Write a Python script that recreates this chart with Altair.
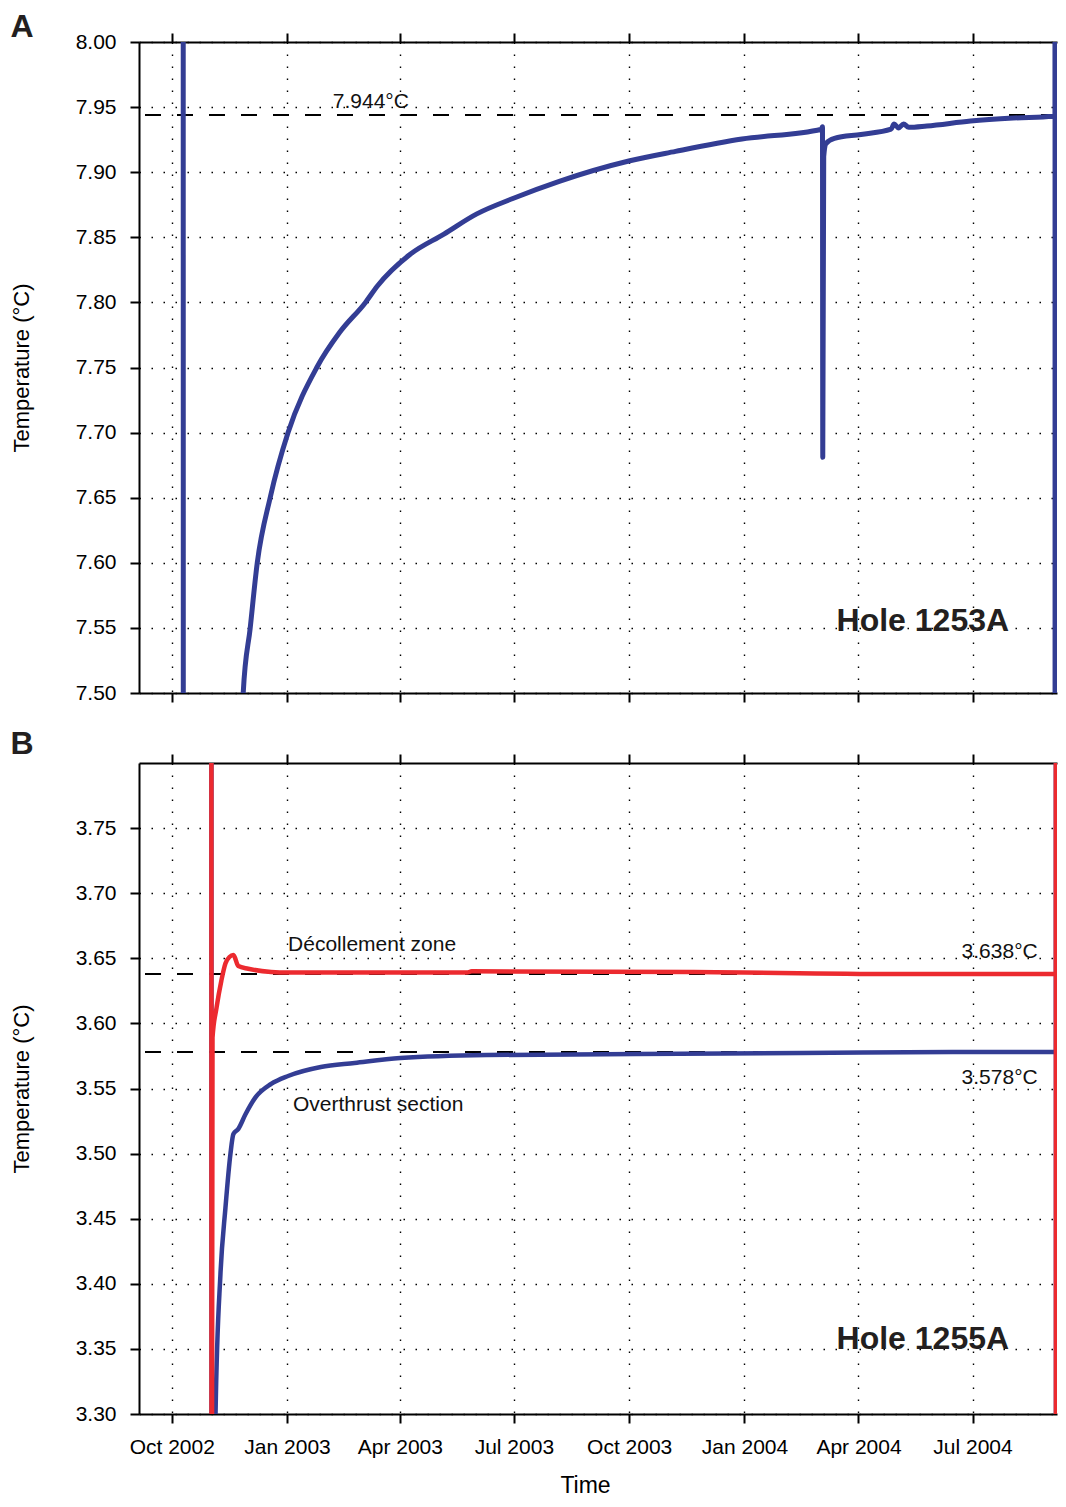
import altair as alt
import pandas as pd

BLUE = "#333D94"
RED = "#EC2A2F"
FONT = "Liberation Sans"

# ---------------- Panel A: Hole 1253A ----------------
a_dates = [
    "2002-10-10T00:00", "2002-10-10T06:00", "2002-11-26T00:00", "2002-11-27T00:00",
    "2002-12-02T14:00", "2002-12-08T05:00", "2002-12-18T12:00", "2003-01-01T19:00",
    "2003-01-24T17:00", "2003-02-12T00:00", "2003-03-04T14:00", "2003-03-14T02:00",
    "2003-04-09T07:00", "2003-05-06T05:00", "2003-06-01T10:00", "2003-06-30T17:00",
    "2003-08-06T05:00", "2003-09-30T17:00", "2003-11-07T00:00", "2003-12-30T00:00",
    "2004-03-02T12:00", "2004-03-03T06:00", "2004-03-03T12:00", "2004-03-04T06:00",
    "2004-03-06T00:00", "2004-03-12T19:00", "2004-04-03T00:00", "2004-04-27T00:00",
    "2004-04-29T10:00", "2004-05-03T00:00", "2004-05-07T00:00", "2004-05-11T00:00",
    "2004-05-25T12:00", "2004-06-29T10:00", "2004-08-02T12:00", "2004-09-03T05:00",
    "2004-09-04T19:00", "2004-09-04T20:00", "2004-09-04T21:00",
]
a_temp = [
    9.0, 7.0, 7.40, 7.50,
    7.55, 7.60, 7.65, 7.70,
    7.75, 7.777, 7.80, 7.8126,
    7.837, 7.8525, 7.868, 7.880,
    7.893, 7.9086, 7.916, 7.9255,
    7.933, 7.935, 7.681, 7.912,
    7.922, 7.926, 7.929, 7.933,
    7.937, 7.934, 7.937, 7.9345,
    7.9355, 7.9393, 7.9416, 7.943,
    7.944, 9.0, 7.0,
]
a_ref = [7.944]
a_note_text = ["7.944°C"]
a_note_date = ["2003-02-06T12:00"]
a_note_temp = [7.9539]
a_hole = ["Hole 1253A"]
a_hole_date = ["2004-03-14T12:00"]
a_hole_temp = [7.5553]

# ---------------- Panel B: Hole 1255A ----------------
b_over_dates = [
    "2002-11-01T12:00", "2002-11-01T18:00", "2002-11-04T12:00", "2002-11-04T22:00",
    "2002-11-08T20:00", "2002-11-12T19:00", "2002-11-16T19:00", "2002-11-19T04:00",
    "2002-11-23T03:00", "2002-11-28T17:00", "2002-12-06T15:00", "2002-12-19T07:00",
    "2003-01-01T19:00", "2003-01-27T22:00", "2003-02-23T21:00", "2003-04-01T08:00",
    "2003-06-09T07:00", "2003-10-06T00:00", "2004-02-15T00:00", "2004-06-15T00:00",
    "2004-09-05T12:00", "2004-09-05T13:00", "2004-09-05T14:00",
]
b_over_temp = [
    4.5, 3.0, 3.25, 3.30,
    3.4075, 3.458, 3.4997, 3.515,
    3.519, 3.530, 3.543, 3.5535,
    3.5596, 3.5665, 3.5696, 3.5734,
    3.5757, 3.5765, 3.5773, 3.578,
    3.578, 4.5, 3.0,
]
b_dec_dates = [
    "2002-11-01T12:00", "2002-11-01T18:00", "2002-11-02T12:00", "2002-11-05T17:00",
    "2002-11-09T14:00", "2002-11-12T19:00", "2002-11-16T00:00", "2002-11-19T05:00",
    "2002-11-23T02:00", "2002-12-01T00:00", "2002-12-19T07:00", "2003-01-01T19:00",
    "2003-05-24T12:00", "2003-05-28T09:00", "2003-11-22T00:00", "2004-04-29T00:00",
    "2004-09-05T12:00", "2004-09-05T13:00", "2004-09-05T14:00",
]
b_dec_temp = [
    4.5, 3.0, 3.589, 3.612,
    3.633, 3.646, 3.651, 3.6525,
    3.644, 3.642, 3.6395, 3.639,
    3.639, 3.640, 3.6395, 3.638,
    3.638, 4.5, 3.0,
]
b_ref = [3.638, 3.578]
b_note_text = ["Décollement zone", "3.638°C", "3.578°C", "Overthrust section"]
b_note_date = ["2003-01-01T19:00", "2004-06-22T07:00", "2004-06-22T07:00", "2003-01-05T17:00"]
b_note_temp = [3.6602, 3.6548, 3.5581, 3.5373]
b_hole = ["Hole 1255A"]
b_hole_date = ["2004-03-14T12:00"]
b_hole_temp = [3.3576]

tick_months = [(2002, 10), (2003, 1), (2003, 4), (2003, 7), (2003, 10), (2004, 1), (2004, 4), (2004, 7)]
a_yticks = [7.50, 7.55, 7.60, 7.65, 7.70, 7.75, 7.80, 7.85, 7.90, 7.95, 8.00]
b_yticks = [3.30, 3.35, 3.40, 3.45, 3.50, 3.55, 3.60, 3.65, 3.70, 3.75]

# ---------------- helpers ----------------
tick_vals = [alt.DateTime(year=y, month=m, date=1) for y, m in tick_months]
x_domain = [alt.DateTime(year=2002, month=9, date=4, hours=20),
            alt.DateTime(year=2004, month=9, date=6, hours=10)]
GRID = dict(grid=True, gridDash=[1.5, 10.5], gridColor="#000000", gridWidth=1.4)
AX = dict(tickSize=9, tickWidth=2, domainWidth=2, domainColor="#000000", tickColor="#000000")
PW, PH = 918, 651


def panel(series, refs, notes, hole, letter, ydom, yticks, bottom_labels, letter_y, lw):
    xs = alt.Scale(domain=x_domain, nice=False)
    ys = alt.Scale(domain=ydom, nice=False, zero=False)

    bottom_kw = dict(orient="bottom", values=tick_vals, format="%b %Y", labelFlush=False,
                     labelOverlap=False, labelFontSize=21, labelPadding=13, **GRID, **AX)
    if bottom_labels:
        bottom_kw.update(title="Time", titleFontSize=23, titlePadding=17, titleX=446)
    else:
        bottom_kw.update(labels=False, title=None)

    yaxis = alt.Axis(values=yticks, format=".2f", title="Temperature (°C)", labelFontSize=21,
                     titleFontSize=22, labelPadding=14, titlePadding=42, labelFlush=False,
                     **GRID, **AX)

    layers = []
    rdf = pd.DataFrame({"temp": refs})
    layers.append(
        alt.Chart(rdf).mark_rule(color="#000000", strokeWidth=2, strokeDash=[16, 16])
        .encode(y=alt.Y("temp:Q", scale=ys, axis=yaxis))
    )
    first = True
    for dates, temps, color in series:
        df = pd.DataFrame({"date": pd.to_datetime(dates), "temp": temps})
        xenc = alt.X("date:T", scale=xs, axis=alt.Axis(**bottom_kw) if first else None)
        yenc = alt.Y("temp:Q", scale=ys, axis=yaxis)
        layers.append(
            alt.Chart(df).mark_line(color=color, strokeWidth=lw, clip=True,
                                    interpolate="monotone", strokeJoin="round")
            .encode(x=xenc, y=yenc)
        )
        first = False

    ntext, ndate, ntemp = notes
    ndf = pd.DataFrame({"date": pd.to_datetime(ndate), "temp": ntemp, "label": ntext})
    top_axis = alt.Axis(orient="top", values=tick_vals, labels=False, title=None, grid=False, **AX)
    layers.append(
        alt.Chart(ndf).mark_text(align="left", baseline="middle", fontSize=21, font=FONT,
                                 color="#111111")
        .encode(x=alt.X("date:T", scale=xs, axis=top_axis),
                y=alt.Y("temp:Q", scale=ys, axis=yaxis), text="label:N")
    )

    htext, hdate, htemp = hole
    hdf = pd.DataFrame({"date": pd.to_datetime(hdate), "temp": htemp, "label": htext})
    layers.append(
        alt.Chart(hdf).mark_text(align="left", baseline="middle", fontSize=32, font=FONT,
                                 fontWeight="bold", color="#231F20")
        .encode(x=alt.X("date:T", scale=xs, axis=None),
                y=alt.Y("temp:Q", scale=ys, axis=yaxis), text="label:N")
    )

    ldf = pd.DataFrame({"label": [letter]})
    layers.append(
        alt.Chart(ldf).mark_text(align="center", baseline="alphabetic", fontSize=32, font=FONT,
                                 fontWeight="bold", color="#231F20")
        .encode(x=alt.value(-117), y=alt.value(letter_y), text="label:N")
    )

    return alt.layer(*layers).resolve_axis(x="independent").properties(width=PW, height=PH)


pA = panel([(a_dates, a_temp, BLUE)], a_ref, (a_note_text, a_note_date, a_note_temp),
           (a_hole, a_hole_date, a_hole_temp), "A", [7.5, 8.0], a_yticks, False, -5, 5)
pB = panel([(b_over_dates, b_over_temp, BLUE), (b_dec_dates, b_dec_temp, RED)], b_ref,
           (b_note_text, b_note_date, b_note_temp), (b_hole, b_hole_date, b_hole_temp),
           "B", [3.3, 3.8], b_yticks, True, -9, 4.5)

chart = (
    alt.vconcat(pA, pB, spacing=70, bounds="flush")
    .properties(padding={"left": 2, "top": 3, "right": 0, "bottom": 0})
    .configure_view(stroke=None)
    .configure_axis(labelFont=FONT, titleFont=FONT, titleFontWeight="normal",
                    labelColor="#000000", titleColor="#000000")
)

chart.save("out.html", embed_options={"renderer": "svg", "actions": False})
